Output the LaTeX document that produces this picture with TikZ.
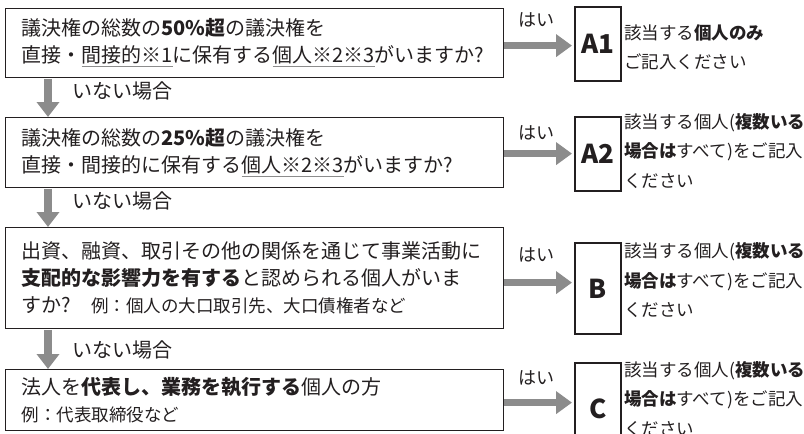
\documentclass[tikz,border=0pt]{standalone}
\usepackage{fontspec}
\setmainfont{Noto Sans CJK JP}
\usetikzlibrary{arrows.meta}
\definecolor{ink}{HTML}{231F20}
\definecolor{arrowgray}{HTML}{8C8C8C}
\newcommand\undl[1]{\leavevmode\setbox0\hbox{#1}\rlap{\color{arrowgray}\rule[-4.5pt]{\wd0}{1.1pt}}\box0}
\newcommand\smalltext{\fontsize{17.5}{25}\selectfont}

\begin{document}
\begin{tikzpicture}[x=1pt, y=-1pt,
	qbox/.style={draw=ink, line width=1.2pt, anchor=north west, minimum width=498pt,
		text width=466pt, inner xsep=16pt, inner ysep=0pt, align=left, text=ink,
		font=\fontsize{20}{27}\selectfont},
	ansbox/.style={draw=ink, line width=2pt, anchor=north west, minimum width=46pt,
		inner sep=0pt, text=ink, font=\fontsize{26}{26}\selectfont\bfseries},
	anstext/.style={anchor=west, align=left, inner sep=0pt, text=ink,
		font=\fontsize{17.5}{29.5}\selectfont},
	yeslabel/.style={inner sep=0pt, text=ink, font=\fontsize{18}{18}\selectfont},
	nolabel/.style={anchor=west, inner sep=0pt, text=ink, font=\fontsize{20}{20}\selectfont},
	rarrow/.style={arrowgray, line width=7pt, shorten >=2pt, -{Triangle[length=16pt,width=22pt]}},
	darrow/.style={arrowgray, line width=8pt, shorten <=0.6pt, -{Triangle[length=15pt,width=22pt]}}
	]
	\clip (0,0) rectangle (804,434);
	
	%%%%% QUESTIONS %%%%%
	\node[qbox, minimum height=69pt] (q1) at (5,8)
		{議決権の総数の\textbf{50\%超}の議決権を\\直接・\undl{間接的※1}に保有する\undl{個人※2※3}がいますか?};
	\node[qbox, minimum height=70pt] (q2) at (5,117)
		{議決権の総数の\textbf{25\%超}の議決権を\\直接・間接的に保有する\undl{個人※2※3}がいますか?};
	\node[qbox, minimum height=101pt] (q3) at (5,227)
		{出資、融資、取引その他の関係を通じて事業活動に\\\textbf{支配的な影響力を有する}と認められる個人がいま\\すか?\hspace{20pt}{\smalltext 例：個人の大口取引先、大口債権者など}};
	\node[qbox, minimum height=61pt] (q4) at (5,369)
		{法人を\textbf{代表し、業務を執行する}個人の方\\{\smalltext 例：代表取締役など}};
	
	%%%%% ANSWERS %%%%%
	\node[ansbox, minimum height=74pt] (a1) at (574,6) {A1};
	\node[ansbox, minimum height=74pt] (a2) at (574,116) {A2};
	\node[ansbox, minimum height=91pt] (b) at (574,242) {B};
	\node[ansbox, minimum height=91pt] (c) at (574,362) {C};
	
	\node[anstext] (t1) at (624,47) {該当する\textbf{個人のみ}\\ご記入ください};
	\node[anstext] (t2) at (624,151) {該当する個人(\textbf{複数いる}\\\textbf{場合は}すべて)をご記入\\ください};
	\node[anstext] (t3) at (624,280.5) {該当する個人(\textbf{複数いる}\\\textbf{場合は}すべて)をご記入\\ください};
	\node[anstext] (t4) at (624,399) {該当する個人(\textbf{複数いる}\\\textbf{場合は}すべて)をご記入\\ください};
	
	%%%%% ARROWS %%%%%
	\draw[rarrow] ([yshift=-2.5pt]q1.east) -- ([yshift=-2.5pt]q1.east -| a1.west);
	\draw[rarrow] ([yshift=-1pt]q2.east) -- ([yshift=-1pt]q2.east -| a2.west);
	\draw[rarrow] ([yshift=-4.5pt]q3.east) -- ([yshift=-4.5pt]q3.east -| b.west);
	\draw[rarrow] ([yshift=-2.5pt]q4.east) -- ([yshift=-2.5pt]q4.east -| c.west);
	
	\node[yeslabel] (y1) at (536,20) {はい};
	\node[yeslabel] (y2) at (536,133) {はい};
	\node[yeslabel] (y3) at (536,255) {はい};
	\node[yeslabel] (y4) at (536,378) {はい};
	
	\draw[darrow] ([xshift=43pt]q1.south west) -- ([xshift=43pt]q2.north west);
	\draw[darrow] ([xshift=43pt]q2.south west) -- ([xshift=43pt]q3.north west);
	\draw[darrow] ([xshift=43pt]q3.south west) -- ([xshift=43pt]q4.north west);
	
	\node[nolabel] (n1) at (72,91) {いない場合};
	\node[nolabel] (n2) at (72,201) {いない場合};
	\node[nolabel] (n3) at (72,350) {いない場合};
\end{tikzpicture}
\end{document}
